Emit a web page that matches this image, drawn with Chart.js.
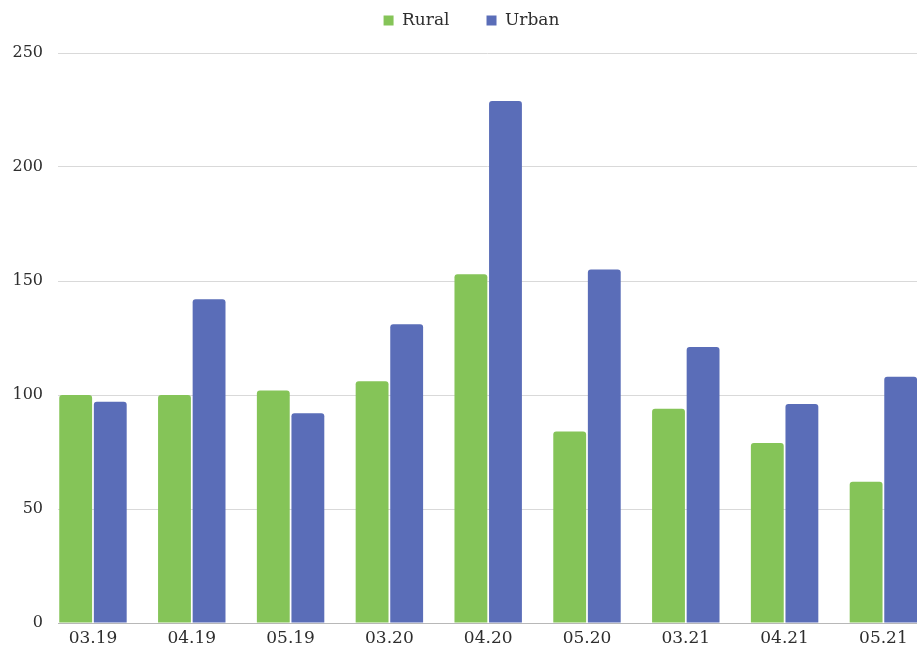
<!DOCTYPE html>
<html>
<head>
<meta charset="utf-8">
<script src="https://cdn.jsdelivr.net/npm/chart.js@4/dist/chart.umd.min.js"></script>
<style>
  html, body { margin: 0; padding: 0; background: #ffffff; overflow: hidden; }
  #wrap { position: relative; width: 917px; height: 654px; }
</style>
</head>
<body>
<div id="wrap"><canvas id="chart" width="917" height="654"></canvas></div>
<script>
// Monthly index, rural vs urban
const periods = ['03.19', '04.19', '05.19', '03.20', '04.20', '05.20', '03.21', '04.21', '05.21'];
const rural = [100, 100, 102, 106, 153, 84, 94, 79, 62];
const urban = [97, 142, 92, 131, 229, 155, 121, 96, 108];
const yTicks = [0, 50, 100, 150, 200, 250];

const GREEN = '#85c458';
const BLUE = '#5a6db8';
const INK = '#2e2e2e';
const FONT = '"DejaVu Serif", "Liberation Serif", serif';

const LEGEND_GAP = 37;     // horizontal space between legend entries
const LEGEND_HEIGHT = 53;  // space reserved above the plot
const LEGEND_LIFT = 25;    // pulls the legend row back up near the top edge
const LEGEND_NUDGE = 13;   // legend sits slightly right of the canvas centre

const toPoints = vals => vals.map((v, i) => ({ x: i, y: v }));

// Wide spacing between legend entries without a tall legend block
const legendSpacing = {
  id: 'legendSpacing',
  beforeInit(chart) {
    const lg = chart.legend;
    const fit = lg.fit;
    lg.fit = function () { fit.call(this); this.height = LEGEND_HEIGHT; };
  },
  afterLayout(chart) {
    const lg = chart.legend;
    lg.top -= LEGEND_LIFT;
    lg.bottom -= LEGEND_LIFT;
    lg.left += LEGEND_NUDGE;
    lg.right += LEGEND_NUDGE;
  }
};

new Chart(document.getElementById('chart'), {
  type: 'bar',
  data: {
    datasets: [
      { label: 'Rural', data: toPoints(rural), backgroundColor: GREEN,
        borderRadius: { topLeft: 3, topRight: 3 }, borderSkipped: 'start' },
      { label: 'Urban', data: toPoints(urban), backgroundColor: BLUE,
        borderRadius: { topLeft: 3, topRight: 3 }, borderSkipped: 'start' }
    ]
  },
  plugins: [legendSpacing],
  options: {
    responsive: false,
    animation: false,
    categoryPercentage: 0.70,
    barPercentage: 0.95,
    layout: { padding: 0 },
    plugins: {
      tooltip: { enabled: false },
      legend: {
        position: 'top',
        labels: {
          boxWidth: 10, boxHeight: 10, padding: LEGEND_GAP,
          color: INK,
          font: { family: FONT, size: 17 }
        }
      }
    },
    scales: {
      x: {
        type: 'linear',
        min: -0.354,
        max: 8.340,
        offset: false,
        grid: { display: false, drawTicks: false },
        border: { display: true, color: '#b8b8b8', width: 1 },
        ticks: {
          stepSize: 1,
          includeBounds: false,
          autoSkip: false,
          maxRotation: 0,
          padding: 5,
          color: INK,
          font: { family: FONT, size: 17 },
          callback: v => (Number.isInteger(v) && periods[v] !== undefined) ? periods[v] : ''
        },
        afterFit: s => { s.height = 31; }
      },
      y: {
        min: 0,
        max: 250,
        afterBuildTicks: s => { s.ticks = yTicks.map(v => ({ value: v })); },
        grid: { color: '#d9d9d9', lineWidth: 1, drawTicks: false },
        border: { display: false },
        ticks: {
          padding: 15,
          color: INK,
          font: { family: FONT, size: 16 }
        },
        afterFit: s => { s.width = 58; }
      }
    }
  }
});
</script>
</body>
</html>
